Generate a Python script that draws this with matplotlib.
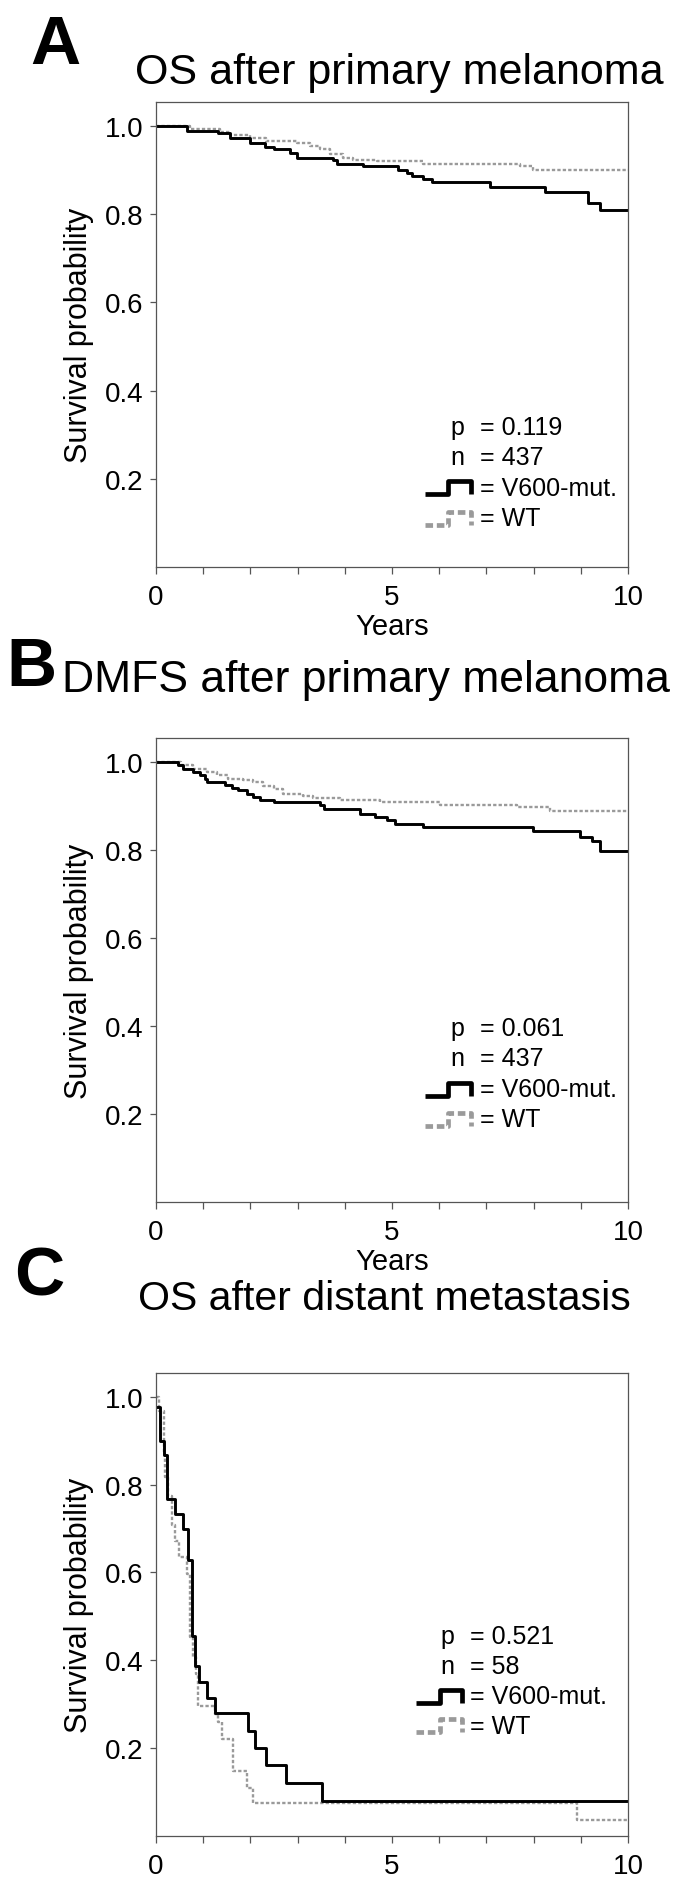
import matplotlib
matplotlib.use("Agg")
import matplotlib.pyplot as plt
from matplotlib.ticker import MultipleLocator, FixedLocator, FormatStrFormatter

plt.rcParams['font.family'] = ['Liberation Sans', 'DejaVu Sans']

W, H = 691, 1881

# A: OS after primary melanoma
a_mut_t = [0, 0.65, 1.32, 1.57, 1.99, 2.31, 2.49, 2.84, 2.98, 3.74, 3.83, 4.39,
           5.13, 5.31, 5.42, 5.66, 5.84, 7.08, 8.24, 9.16, 9.41]
a_mut_s = [1.0, 0.989, 0.984, 0.973, 0.960, 0.952, 0.947, 0.939, 0.928, 0.922, 0.914, 0.908,
           0.901, 0.893, 0.886, 0.880, 0.872, 0.861, 0.850, 0.825, 0.809]
a_wt_t = [0, 0.72, 1.36, 1.57, 1.99, 2.34, 2.98, 3.26, 3.47, 3.69, 3.97, 4.18,
          4.68, 5.66, 7.71, 7.99]
a_wt_s = [1.0, 0.993, 0.987, 0.979, 0.972, 0.966, 0.960, 0.954, 0.948, 0.936, 0.928, 0.922,
          0.920, 0.914, 0.908, 0.901]

# B: DMFS after primary melanoma
b_mut_t = [0, 0.47, 0.58, 0.79, 0.93, 1.04, 1.07, 1.46, 1.60, 1.74, 1.92, 2.06, 2.20,
           2.49, 3.47, 3.55, 4.32, 4.64, 4.89, 5.06, 5.66, 7.99, 8.98, 9.23, 9.41]
b_mut_s = [1.0, 0.992, 0.984, 0.977, 0.969, 0.962, 0.953, 0.948, 0.941, 0.935, 0.927, 0.921, 0.914,
           0.908, 0.901, 0.893, 0.882, 0.874, 0.867, 0.859, 0.852, 0.842, 0.830, 0.820, 0.798]
b_wt_t = [0, 0.54, 0.79, 1.07, 1.29, 1.53, 1.85, 2.06, 2.27, 2.49, 2.70, 3.12, 3.33,
          3.90, 4.75, 6.02, 7.64, 8.35]
b_wt_s = [1.0, 0.992, 0.984, 0.977, 0.969, 0.962, 0.958, 0.954, 0.946, 0.939, 0.926, 0.922, 0.918,
          0.914, 0.908, 0.902, 0.897, 0.889]

# C: OS after distant metastasis
c_mut_t = [0, 0.08, 0.18, 0.24, 0.40, 0.58, 0.67, 0.76, 0.83, 0.92, 1.09, 1.25,
           1.94, 2.10, 2.33, 2.75, 3.51]
c_mut_s = [0.976, 0.900, 0.868, 0.767, 0.733, 0.699, 0.629, 0.455, 0.386, 0.350, 0.315, 0.280,
           0.240, 0.200, 0.161, 0.121, 0.079]
c_wt_t = [0, 0.07, 0.16, 0.19, 0.25, 0.33, 0.40, 0.49, 0.65, 0.73, 0.79, 0.84, 0.90,
          1.25, 1.32, 1.39, 1.64, 1.92, 2.06, 8.92]
c_wt_s = [1.0, 0.968, 0.870, 0.817, 0.775, 0.707, 0.672, 0.634, 0.597, 0.453, 0.407, 0.369, 0.297,
          0.278, 0.259, 0.221, 0.147, 0.109, 0.074, 0.036]

letters = ['A', 'B', 'C']
titles = ['OS after primary melanoma', 'DMFS after primary melanoma', 'OS after distant metastasis']
p_values = ['0.119', '0.061', '0.521']
n_values = ['437', '437', '58']

GRAY = '#9a9a9a'
SPINE = '#555555'


def px_axes(top, bottom, left=156, right=628):
    return [left / W, 1 - bottom / H, (right - left) / W, (bottom - top) / H]


def dibujar_clave(ax, xs, ylo, yhi, **estilo):
    # pequeño escalón como en la leyenda original
    x0, x1, x2 = xs
    ax.plot([x0, x1, x1, x2, x2], [ylo, ylo, yhi, yhi, ylo], transform=ax.transAxes,
            clip_on=False, solid_capstyle='butt', dash_capstyle='butt', **estilo)


def panel(ax, mut_t, mut_s, wt_t, wt_s, p, n, leg, xlabel=True):
    ax.step(wt_t + [10], wt_s + [wt_s[-1]], where='post', color=GRAY, lw=1.7,
            linestyle=(0, (1.4, 0.9)))
    ax.step(mut_t + [10], mut_s + [mut_s[-1]], where='post', color='black', lw=2.1)
    ax.set_xlim(0, 10)
    ax.set_ylim(0, 1.054)
    ax.xaxis.set_major_locator(FixedLocator([0, 5, 10]))
    ax.xaxis.set_minor_locator(MultipleLocator(1))
    ax.yaxis.set_major_locator(FixedLocator([0.2, 0.4, 0.6, 0.8, 1.0]))
    ax.yaxis.set_major_formatter(FormatStrFormatter('%.1f'))
    for s in ax.spines.values():
        s.set_color(SPINE)
        s.set_linewidth(0.9)
    ax.tick_params(axis='x', which='both', length=5, width=0.9, color=SPINE, labelsize=20, pad=7)
    ax.tick_params(axis='y', length=4, width=0.9, color=SPINE, labelsize=20, pad=5)
    ax.set_ylabel('Survival probability', fontsize=22, labelpad=8)
    if xlabel:
        ax.set_xlabel('Years', fontsize=21, labelpad=2)

    xp, xe, icon, rows = leg
    ax.text(xp, rows[0], 'p', transform=ax.transAxes, fontsize=18, va='center')
    ax.text(xe, rows[0], '= ' + p, transform=ax.transAxes, fontsize=18, va='center')
    ax.text(xp, rows[1], 'n', transform=ax.transAxes, fontsize=18, va='center')
    ax.text(xe, rows[1], '= ' + n, transform=ax.transAxes, fontsize=18, va='center')
    ax.text(xe, rows[2], '= V600-mut.', transform=ax.transAxes, fontsize=18, va='center')
    ax.text(xe, rows[3], '= WT', transform=ax.transAxes, fontsize=18, va='center')
    dibujar_clave(ax, icon, rows[2] - 0.014, rows[2] + 0.014, color='black', lw=3.4)
    dibujar_clave(ax, icon, rows[3] - 0.014, rows[3] + 0.014, color=GRAY, lw=3.4,
                  linestyle=(0, (1.6, 0.8)))


fig = plt.figure(figsize=(W / 100, H / 100), dpi=100)

axA = fig.add_axes(px_axes(103, 568))
axB = fig.add_axes(px_axes(739, 1203))
axC = fig.add_axes(px_axes(1374, 1837))

legA = (0.623, 0.686, (0.570, 0.619, 0.667), [0.301, 0.237, 0.170, 0.105])
legB = (0.623, 0.686, (0.570, 0.619, 0.667), [0.374, 0.310, 0.243, 0.178])
legC = (0.602, 0.665, (0.551, 0.602, 0.648), [0.432, 0.367, 0.302, 0.238])

panel(axA, a_mut_t, a_mut_s, a_wt_t, a_wt_s, p_values[0], n_values[0], legA)
panel(axB, b_mut_t, b_mut_s, b_wt_t, b_wt_s, p_values[1], n_values[1], legB)
panel(axC, c_mut_t, c_mut_s, c_wt_t, c_wt_s, p_values[2], n_values[2], legC, xlabel=False)

# letras y títulos (posiciones en píxeles de la figura)
pos_letras = [(30, 64), (6, 686), (14, 1296)]
pos_titulos = [(135, 84, 31), (62, 692, 32), (138, 1310, 29.5)]
for letra, (lx, ly) in zip(letters, pos_letras):
    fig.text(lx / W, 1 - ly / H, letra, fontsize=50, fontweight='bold', va='baseline')
for titulo, (tx, ty, fs) in zip(titles, pos_titulos):
    fig.text(tx / W, 1 - ty / H, titulo, fontsize=fs, va='baseline')

fig.savefig('out.png', dpi=100)
